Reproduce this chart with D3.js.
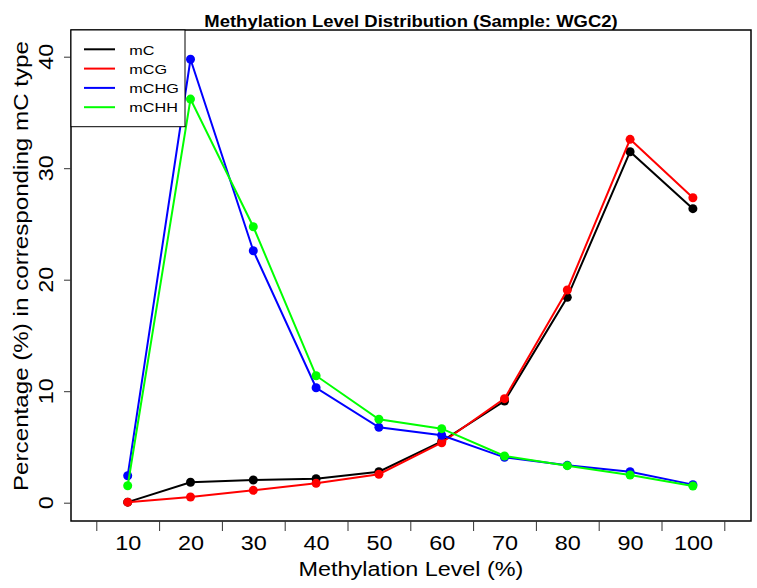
<!DOCTYPE html>
<html>
<head>
<meta charset="utf-8">
<script src="https://cdn.jsdelivr.net/npm/d3@7"></script>
<style>
  html, body { margin: 0; padding: 0; background: #fff; }
  svg { display: block; font-family: "Liberation Sans", Arial, sans-serif; }
</style>
</head>
<body>
<svg id="chart" width="757" height="588"></svg>
<script>
// data
const levels = [10, 20, 30, 40, 50, 60, 70, 80, 90, 100];
const seriesNames = ["mC", "mCG", "mCHG", "mCHH"];
const mC   = [0.05, 1.83, 2.04, 2.15, 2.78, 5.5, 9.12, 18.42, 31.48, 26.37];
const mCG  = [0.05, 0.51, 1.11, 1.74, 2.55, 5.38, 9.33, 19.08, 32.59, 27.35];
const mCHG = [2.42, 39.77, 22.6, 10.31, 6.76, 6.05, 4.07, 3.35, 2.78, 1.62];
const mCHH = [1.52, 36.2, 24.75, 11.39, 7.48, 6.64, 4.19, 3.32, 2.48, 1.50];
const yTicks = [0, 10, 20, 30, 40];
const colors = ["#000000", "#ff0000", "#0000ff", "#00ff00"];

const series = [mC, mCG, mCHG, mCHH].map((vals, k) => ({
  name: seriesNames[k], color: colors[k],
  values: vals.map((v, i) => ({ i: i + 1, v: v }))
}));

const svg = d3.select("#chart");
const box = { left: 71, right: 751, top: 30, bottom: 521 };
const sx = 1.2; // horizontal text stretch

// scales
const x = d3.scaleLinear().domain([0.5, 10.5]).range([96.3, 724.3]);
const y = d3.scaleLinear().domain([0, 40]).range([502.7, 56.7]);

/** frame */
svg.append("rect")
  .attr("x", box.left).attr("y", box.top)
  .attr("width", box.right - box.left).attr("height", box.bottom - box.top)
  .attr("fill", "none").attr("stroke", "#000").attr("stroke-width", 1.5);

/** x axis: tick marks between categories, labels at centres */
const xMarks = svg.append("g")
  .attr("transform", `translate(0,${box.bottom})`)
  .call(d3.axisBottom(x).tickValues(d3.range(0.5, 11, 1)).tickSize(10).tickFormat(""));
xMarks.select(".domain").remove();
xMarks.selectAll("line").attr("stroke", "#333").attr("stroke-width", 1);

const xLabels = svg.append("g")
  .attr("transform", `translate(0,${box.bottom})`)
  .call(d3.axisBottom(x).tickValues(d3.range(1, 11)).tickSize(0).tickFormat(i => levels[i - 1]));
xLabels.select(".domain").remove();
xLabels.selectAll("text")
  .attr("y", 0).attr("dy", 0)
  .attr("font-size", 19.5).attr("font-family", "Liberation Sans, Arial, sans-serif")
  .attr("fill", "#000")
  .attr("transform", `translate(0,29) scale(${sx},1)`);

/** y axis */
const yAxis = svg.append("g")
  .attr("transform", `translate(${box.left},0)`)
  .call(d3.axisLeft(y).tickValues(yTicks).tickSize(7).tickFormat(""));
yAxis.select(".domain").remove();
yAxis.selectAll("line").attr("stroke", "#333");

svg.selectAll(".yLab")
  .data(yTicks)
  .join("text")
  .attr("class", "yLab")
  .attr("text-anchor", "middle")
  .attr("font-size", 19.5)
  .attr("transform", d => `translate(53,${y(d)}) rotate(-90) scale(${sx},1)`)
  .text(d => d);

/** titles */
svg.append("text")
  .attr("text-anchor", "middle")
  .attr("font-weight", "bold")
  .attr("font-size", 16.5)
  .attr("transform", `translate(411,26.5) scale(1.12,1)`)
  .text("Methylation Level Distribution (Sample: WGC2)");

svg.append("text")
  .attr("text-anchor", "middle")
  .attr("font-size", 19.5)
  .attr("transform", `translate(411,576) scale(${sx},1)`)
  .text("Methylation Level (%)");

svg.append("text")
  .attr("text-anchor", "middle")
  .attr("font-size", 19.5)
  .attr("transform", `translate(27.5,266) rotate(-90) scale(1.24,1)`)
  .text("Percentage (%) in corresponding mC type");

/** lines and points */
const line = d3.line().x(d => x(d.i)).y(d => y(d.v));
const groups = svg.selectAll(".series")
  .data(series)
  .join("g")
  .attr("class", "series");

groups.append("path")
  .attr("fill", "none")
  .attr("stroke", d => d.color)
  .attr("stroke-width", 2)
  .attr("d", d => line(d.values));

groups.selectAll("circle")
  .data(d => d.values.map(p => ({ ...p, color: d.color })))
  .join("circle")
  .attr("cx", d => x(d.i))
  .attr("cy", d => y(d.v))
  .attr("r", 4.5)
  .attr("fill", d => d.color);

/** legend */
const legend = svg.append("g");
legend.append("rect")
  .attr("x", box.left).attr("y", box.top)
  .attr("width", 185 - box.left).attr("height", 126.7 - box.top)
  .attr("fill", "#fff").attr("stroke", "#000").attr("stroke-width", 1);

legend.selectAll(".legendLine")
  .data(series)
  .join("line")
  .attr("class", "legendLine")
  .attr("x1", 84).attr("x2", 115)
  .attr("y1", (d, i) => 49.3 + i * 19.3)
  .attr("y2", (d, i) => 49.3 + i * 19.3)
  .attr("stroke", d => d.color)
  .attr("stroke-width", 2);

legend.selectAll(".legendText")
  .data(series)
  .join("text")
  .attr("class", "legendText")
  .attr("font-size", 13.5)
  .attr("transform", (d, i) => `translate(129.3,${54.5 + i * 19.3}) scale(${sx},1)`)
  .text(d => d.name);
</script>
</body>
</html>
